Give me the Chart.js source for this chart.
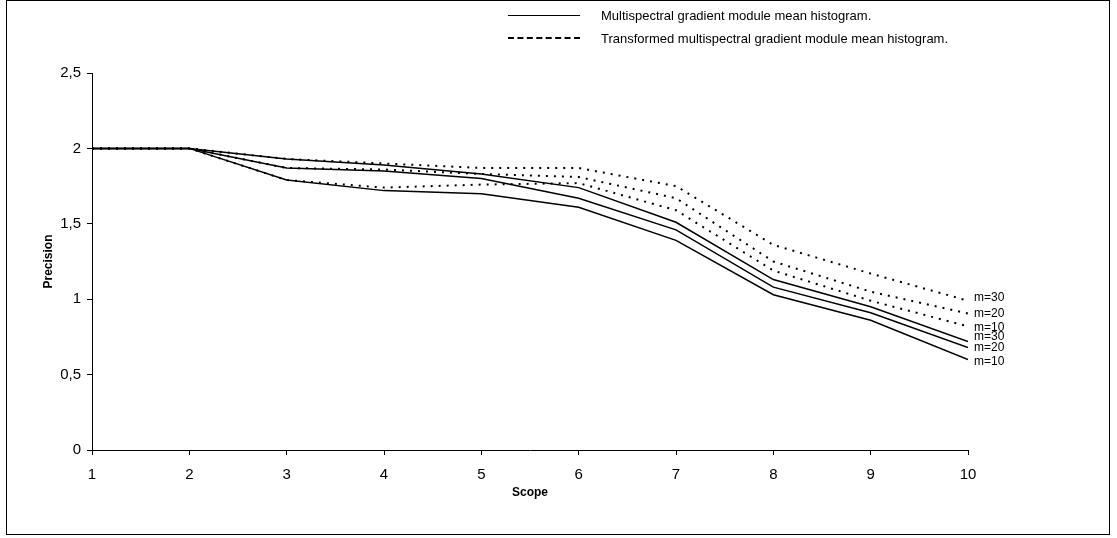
<!DOCTYPE html>
<html>
<head>
<meta charset="utf-8">
<script src="https://cdn.jsdelivr.net/npm/chart.js@4.4.0/dist/chart.umd.min.js"></script>
<style>
    html, body { margin: 0; padding: 0; background: #fff; }
    #wrap { position: relative; width: 1117px; height: 538px; }
    #frame {
        position: absolute; left: 6px; top: 0; width: 1104px; height: 535px;
        border: 1px solid #000; box-sizing: border-box; pointer-events: none;
    }
    .legend-row {
        position: absolute; left: 508px; height: 16px;
        font: 13px "Liberation Sans", Arial, sans-serif; color: #000;
        display: flex; align-items: center;
    }
    .legend-line { width: 72px; height: 0; margin-right: 21px; }
</style>
</head>
<body>
<div id="wrap">
    <canvas id="chart" width="1117" height="538"></canvas>
    <div id="frame"></div>
    <div class="legend-row" style="top:7px;"><div class="legend-line" style="border-top:1px solid #000;"></div>Multispectral gradient module mean histogram.</div>
    <div class="legend-row" style="top:30px;"><div class="legend-line" style="border-top:2px dashed #000;"></div>Transformed multispectral gradient module mean histogram.</div>
</div>
<script>
const scopes = [1, 2, 3, 4, 5, 6, 7, 8, 9, 10];
const yTicks = [0, 0.5, 1, 1.5, 2, 2.5];

// solid: multispectral gradient module mean histogram
const solidM10 = [2, 2, 1.79, 1.72, 1.70, 1.61, 1.39, 1.03, 0.86, 0.60];
const solidM20 = [2, 2, 1.87, 1.85, 1.80, 1.67, 1.46, 1.08, 0.91, 0.68];
const solidM30 = [2, 2, 1.93, 1.89, 1.83, 1.74, 1.51, 1.13, 0.95, 0.72];

// dotted: transformed histogram
const dotM10 = [2, 2, 1.79, 1.74, 1.76, 1.77, 1.59, 1.19, 0.99, 0.82];
const dotM20 = [2, 2, 1.87, 1.86, 1.83, 1.81, 1.67, 1.25, 1.05, 0.905];
const dotM30 = [2, 2, 1.93, 1.90, 1.87, 1.87, 1.75, 1.36, 1.17, 0.99];

const seriesNames = ['m=30', 'm=20', 'm=10', 'm=30', 'm=20', 'm=10'];
const seriesValues = [dotM30, dotM20, dotM10, solidM30, solidM20, solidM10];
const seriesDotted = [true, true, true, false, false, false];

const font = '"Liberation Sans", Arial, sans-serif';
// small vertical nudges so the end labels do not collide
const labelNudge = [-3, 0, 1, -5, 0, 2];

function toPoints(values) {
    return values.map((v, i) => ({ x: scopes[i], y: v }));
}

const endLabels = {
    id: 'endLabels',
    afterDatasetsDraw(chart) {
        const ctx = chart.ctx;
        const xs = chart.scales.x;
        const ys = chart.scales.y;
        ctx.save();
        ctx.font = '12px ' + font;
        ctx.fillStyle = '#000';
        ctx.textBaseline = 'middle';
        ctx.textAlign = 'left';
        chart.data.datasets.forEach((ds, i) => {
            const last = ds.data[ds.data.length - 1];
            ctx.fillText(ds.label, xs.getPixelForValue(last.x) + 6, ys.getPixelForValue(last.y) + labelNudge[i]);
        });
        ctx.restore();
    }
};

new Chart(document.getElementById('chart'), {
    type: 'line',
    data: {
        datasets: seriesValues.map((vals, i) => ({
            label: seriesNames[i],
            data: toPoints(vals),
            borderColor: '#000',
            borderWidth: seriesDotted[i] ? 2 : 1.5,
            borderDash: seriesDotted[i] ? [2, 6] : [],
            pointRadius: 0,
            tension: 0,
            fill: false
        }))
    },
    options: {
        responsive: false,
        animation: false,
        devicePixelRatio: 1,
        layout: { padding: { left: 0, right: 149, top: 73, bottom: 0 } },
        plugins: {
            legend: { display: false },
            tooltip: { enabled: false }
        },
        scales: {
            x: {
                type: 'linear',
                min: 1,
                max: 10,
                afterFit: (scale) => { scale.height = 88; },
                afterBuildTicks: (scale) => { scale.ticks = scopes.map((v) => ({ value: v })); },
                grid: { drawOnChartArea: false, color: '#000', tickLength: 5 },
                border: { color: '#000', width: 1 },
                ticks: { color: '#000', font: { family: font, size: 15 }, padding: 11, maxRotation: 0 },
                title: {
                    display: true,
                    text: 'Scope',
                    color: '#000',
                    font: { family: font, size: 12, weight: 'bold' },
                    padding: { top: 0, bottom: 38 }
                }
            },
            y: {
                min: 0,
                max: 2.5,
                afterFit: (scale) => { scale.width = 92; },
                afterBuildTicks: (scale) => { scale.ticks = yTicks.map((v) => ({ value: v })); },
                grid: { drawOnChartArea: false, color: '#000', tickLength: 5 },
                border: { color: '#000', width: 1 },
                ticks: {
                    color: '#000',
                    font: { family: font, size: 15 },
                    padding: 6,
                    callback: (v) => String(v).replace('.', ',')
                },
                title: {
                    display: true,
                    text: 'Precision',
                    color: '#000',
                    font: { family: font, size: 12, weight: 'bold' },
                    padding: { top: 41, bottom: 0 }
                }
            }
        }
    },
    plugins: [endLabels]
});
</script>
</body>
</html>
